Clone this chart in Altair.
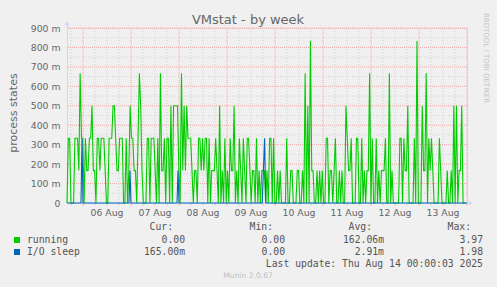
import altair as alt
import pandas as pd

# ---------------- data ----------------
title_text = "VMstat - by week"
y_title = "process states"
day_labels = ["06 Aug", "07 Aug", "08 Aug", "09 Aug", "10 Aug", "11 Aug", "12 Aug", "13 Aug"]
y_tick_values = [0, 0.1, 0.2, 0.3, 0.4, 0.5, 0.6, 0.7, 0.8, 0.9]

# "running" in units of 1/6 process, four consecutive 50-hour stretches
# starting Aug 5 16:00 (40-minute samples)
running_a = [0, 2, 2, 0, 0, 0, 2, 2, 2, 1, 4, 2, 2, 0, 2, 1, 1, 2, 2, 3,
             1, 1, 0, 2, 2, 1, 2, 2, 2, 1, 0, 0, 2, 2, 2, 3, 3, 2, 1, 1,
             2, 2, 2, 0, 0, 2, 0, 1, 3, 2, 2, 1, 1, 0, 2, 4, 3, 1, 0, 0,
             0, 2, 2, 0, 2, 2, 2, 1, 0, 2, 0, 4, 1, 1, 2, 0]
running_b = [2, 2, 0, 3, 0, 3, 3, 3, 3, 1, 0, 4, 1, 3, 1, 3, 2, 2, 2, 1,
             0, 1, 1, 0, 2, 2, 1, 2, 1, 2, 2, 0, 2, 0, 1, 1, 1, 2, 1, 0,
             3, 0, 1, 0, 2, 0, 1, 0, 2, 1, 1, 3, 0, 1, 0, 2, 1, 0, 2, 1,
             0, 2, 2, 1, 0, 1, 1, 0, 2, 0, 1, 0, 1, 1, 1, 0]
running_c = [1, 0, 2, 2, 0, 2, 0, 0, 1, 0, 1, 0, 0, 0, 0, 2, 0, 0, 1, 1,
             0, 0, 0, 1, 1, 0, 0, 1, 0, 4, 0, 3, 0, 5, 1, 1, 0, 0, 1, 0,
             1, 0, 1, 0, 0, 2, 2, 0, 1, 1, 0, 1, 2, 0, 0, 1, 0, 1, 0, 0,
             3, 2, 1, 1, 2, 0, 0, 0, 2, 2, 0, 0, 2, 0, 1, 0]
running_d = [1, 1, 4, 0, 2, 0, 0, 2, 0, 1, 0, 1, 1, 1, 2, 0, 0, 4, 0, 1,
             0, 0, 0, 0, 0, 2, 2, 0, 2, 1, 1, 3, 0, 0, 0, 0, 2, 0, 5, 0,
             0, 0, 3, 1, 1, 4, 0, 2, 1, 2, 1, 0, 0, 0, 0, 2, 1, 0, 0, 0,
             0, 1, 0, 0, 1, 0, 3, 0, 3, 0, 1, 1, 3, 0, 0, 0]

# "I/O sleep" (units of 1/6), hours after Aug 5 16:00
io_hours = [0, 7.0, 7.5, 8.0, 31.0, 31.5, 32.0, 55.0, 55.5, 56.0, 97.6, 98.2, 98.8, 99.4, 200]
io_sixths = [0, 0, 2, 0, 0, 1, 0, 0, 1, 0, 0, 1, 2, 0, 0]

series_names = ["running", "I/O sleep"]
series_colors = ["#00CC00", "#0066B3"]
col_headers = ["Cur:", "Min:", "Avg:", "Max:"]
cur_vals = ["0.00", "165.00m"]
min_vals = ["0.00", "0.00"]
avg_vals = ["162.06m", "2.91m"]
max_vals = ["3.97", "1.98"]
last_update = "Last update: Thu Aug 14 00:00:03 2025"
footer = "Munin 2.0.67"
side_text = "RRDTOOL / TOBI OETIKER"

# ---------------- tables ----------------
rows = []
for k, chunk in enumerate([running_a, running_b, running_c, running_d]):
    n = len(chunk)
    for i, v in enumerate(chunk):
        rows.append({"h": 50 * k + 50 * i / n, "v": v / 6})
run_df = pd.DataFrame(rows)
io_df = pd.DataFrame({"h": io_hours, "v": [s / 6 for s in io_sixths]})

midnights = list(range(8, 201, 24))
six_hours = [h for h in range(2, 200, 6) if (h - 8) % 24 != 0]
day_df = pd.DataFrame({"h": [8 + 12 + 24 * i for i in range(len(day_labels))], "t": day_labels})
ymajor_df = pd.DataFrame({"v": [round(0.1 * i, 2) for i in range(1, 10)]})
yminor_df = pd.DataFrame({"v": [round(0.1 * i + 0.05, 2) for i in range(0, 9)]})
xmajor_df = pd.DataFrame({"h": midnights})
xminor_df = pd.DataFrame({"h": six_hours})

# ---------------- style ----------------
W, H = 400, 175
GREY = "#666666"
LEG = "#555555"
AXIS = "#CFD6F8"
MONO = "DejaVu Sans Mono"
SANS = "DejaVu Sans"
NBSP = "\u00a0"

xs = alt.Scale(domain=[0, 200], nice=False, zero=False)
ys = alt.Scale(domain=[0, 0.9], nice=False)
x_axis = alt.Axis(labels=False, ticks=False, grid=False, title="", domainColor=AXIS)
y_axis = alt.Axis(values=y_tick_values, grid=False, ticks=False, domainColor=AXIS,
                  labelExpr="datum.value == 0 ? '0' : format(datum.value*1000, '.0f') + ' m'",
                  labelFont=SANS, labelFontSize=9.3, labelColor=GREY, labelPadding=7,
                  title=y_title, titleFont=SANS, titleFontSize=11, titleFontWeight="normal",
                  titleColor=GREY, titleAngle=270, titleX=-53.5, titleY=84.5,
                  titleAlign="center", titleBaseline="middle")
X = alt.X("h:Q", scale=xs, axis=x_axis)
Y = alt.Y("v:Q", scale=ys, axis=y_axis)


def txt(s, x, y, **kw):
    return alt.Chart(pd.DataFrame({"t": [s]})).mark_text(**kw).encode(
        x=alt.value(x), y=alt.value(y), text="t:N")


layers = []
layers.append(alt.Chart(yminor_df).mark_rule(color="#D0D0D0", strokeDash=[1, 2], strokeWidth=1).encode(y=Y))
layers.append(alt.Chart(xminor_df).mark_rule(color="#D0D0D0", strokeDash=[1, 2], strokeWidth=1).encode(x=X))
layers.append(alt.Chart(ymajor_df).mark_rule(color="#F0A8A8", strokeDash=[1, 1], strokeWidth=1).encode(y=Y))
layers.append(alt.Chart(xmajor_df).mark_rule(color="#F0A8A8", strokeDash=[1, 1], strokeWidth=1).encode(x=X))
layers.append(alt.Chart(xminor_df).mark_rule(color="#C8C8C8", strokeWidth=1).encode(
    x=X, y=alt.value(H), y2=alt.value(H + 2.5)))
layers.append(alt.Chart(xmajor_df).mark_rule(color="#F0A0A0", strokeWidth=1).encode(
    x=X, y=alt.value(H), y2=alt.value(H + 2.5)))
layers.append(alt.Chart(run_df).mark_line(color=series_colors[0], strokeWidth=1.1).encode(x=X, y=Y))
layers.append(alt.Chart(io_df).mark_line(color=series_colors[1], strokeWidth=1.1).encode(x=X, y=Y))

# axis arrows
layers.append(alt.Chart(pd.DataFrame({"a": [0]})).mark_rule(color=AXIS).encode(
    x=alt.value(0), y=alt.value(-4), y2=alt.value(0)))
layers.append(alt.Chart(pd.DataFrame({"a": [0]})).mark_rule(color=AXIS).encode(
    x=alt.value(W), x2=alt.value(W + 4), y=alt.value(H)))
layers.append(alt.Chart(pd.DataFrame({"a": [0]})).mark_point(
    shape="triangle-up", filled=True, size=22, color=AXIS, opacity=1).encode(
    x=alt.value(0), y=alt.value(-5)))
layers.append(alt.Chart(pd.DataFrame({"a": [0]})).mark_point(
    shape="triangle-right", filled=True, size=22, color=AXIS, opacity=1).encode(
    x=alt.value(W + 4), y=alt.value(H)))

# day labels
layers.append(alt.Chart(day_df).mark_text(font=SANS, fontSize=9.3, color=GREY, baseline="middle").encode(
    x=X, y=alt.value(H + 9.5), text="t:N"))

# title and side texts
layers.append(txt(title_text, 181, -4.5, font=SANS, fontSize=13, color=GREY, baseline="alphabetic"))
layers.append(txt(side_text, 418.5, 30, font=SANS, fontSize=7, color="#C4C4C4", angle=90, baseline="middle"))

# legend (monospace; values without a unit get a trailing non-breaking space)
row_y = [212, 224]
col_edges = [118, 218, 317, 416]
for j, hdr in enumerate(col_headers):
    layers.append(txt(hdr, col_edges[j] - 12, 199, font=MONO, fontSize=9.75, color=LEG,
                      align="right", baseline="middle"))
for r in range(2):
    layers.append(alt.Chart(pd.DataFrame({"a": [0]})).mark_square(
        size=36, color=series_colors[r], opacity=1).encode(x=alt.value(-50), y=alt.value(row_y[r])))
    layers.append(txt(series_names[r], -40, row_y[r], font=MONO, fontSize=9.75, color=LEG,
                      align="left", baseline="middle"))
    for j, vals in enumerate([cur_vals, min_vals, avg_vals, max_vals]):
        s = vals[r] if vals[r].endswith("m") else vals[r] + NBSP
        layers.append(txt(s, col_edges[j], row_y[r], font=MONO, fontSize=9.75, color=LEG,
                          align="right", baseline="middle"))
layers.append(txt(last_update, 416, 236, font=MONO, fontSize=9.75, color=LEG,
                  align="right", baseline="middle"))
layers.append(txt(footer, 181, 248, font=SANS, fontSize=7.6, color="#C0C0C0", baseline="middle"))

chart = alt.layer(*layers).properties(
    width=W, height=H,
    autosize=alt.AutoSizeParams(type="none"),
    padding={"left": 67, "top": 28, "right": 30, "bottom": 84},
    background="#F0F0F0",
).configure_view(fill="white", stroke=None).configure(font=SANS)

chart.save("out.html", embed_options={"renderer": "svg", "actions": False})
